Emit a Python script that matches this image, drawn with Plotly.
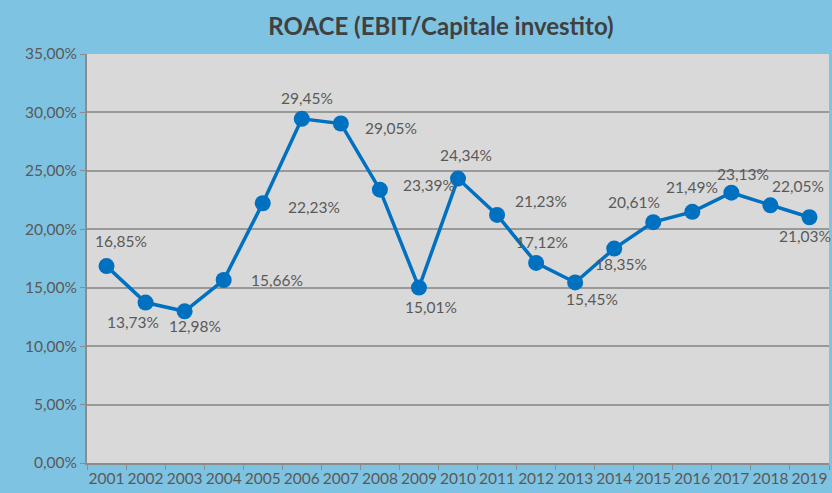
import plotly.graph_objects as go

years = [str(y) for y in range(2001, 2020)]
roace = [16.85, 13.73, 12.98, 15.66, 22.23, 29.45, 29.05, 23.39, 15.01, 24.34,
         21.23, 17.12, 15.45, 18.35, 20.61, 21.49, 23.13, 22.05, 21.03]

# label offsets in pixels (dx, dy) from each point
label_offsets = [(14, -25), (-13, 19), (10, 15), (53, 0), (51, 4), (5, -21),
                 (50, 4), (49, -5), (12, 19), (8, -24), (44, -14), (6, -21),
                 (17, 17), (7, 15), (-19, -20), (0, -25), (12, -19), (28, -19),
                 (-4, 19)]

fig = go.Figure()
fig.add_trace(go.Scatter(
    x=years,
    y=roace,
    mode='lines+markers',
    line=dict(color='#0070c0', width=3.5),
    marker=dict(color='#0070c0', size=16),
    showlegend=False,
    hoverinfo='skip'))

for i, (v, (dx, dy)) in enumerate(zip(roace, label_offsets)):
    fig.add_annotation(
        x=i, y=v, xref='x', yref='y',
        text=f"{v:.2f}".replace('.', ',') + '%',
        showarrow=False, xshift=dx, yshift=-dy,
        font=dict(family='Lato, DejaVu Sans', size=15.5, color='#595959'))

fig.update_layout(
    width=832, height=493,
    margin=dict(l=87, r=3, t=54, b=30, autoexpand=False),
    paper_bgcolor='#7fc3e2',
    plot_bgcolor='#d9d9d9',
    separators=',.',
    title=dict(text='<b>ROACE (EBIT/Capitale investito)</b>',
               x=0.53, xanchor='center', y=1 - 27 / 493, yref='container',
               yanchor='middle',
               font=dict(family='Lato, DejaVu Sans', size=24, color='#404040')),
    xaxis=dict(type='category', range=[-0.5, 18.5], tickson='boundaries',
               ticks='outside', ticklen=5, tickcolor='#8c8c8c', tickangle=0,
               showline=True, linecolor='#8c8c8c', linewidth=2,
               showgrid=False, automargin=False,
               tickfont=dict(family='Lato, DejaVu Sans', size=15.5, color='#595959')),
    yaxis=dict(range=[0, 35], dtick=5, tickformat='.2f', ticksuffix='%',
               ticks='outside', ticklen=5, tickcolor='#8c8c8c',
               showline=True, linecolor='#8c8c8c', linewidth=2,
               gridcolor='#999999', gridwidth=1.5, zeroline=False, automargin=False,
               tickfont=dict(family='Lato, DejaVu Sans', size=15.5, color='#595959')),
)

fig.write_html("out.html", config={'displayModeBar': False},
               post_script="document.body.style.margin='0';")
